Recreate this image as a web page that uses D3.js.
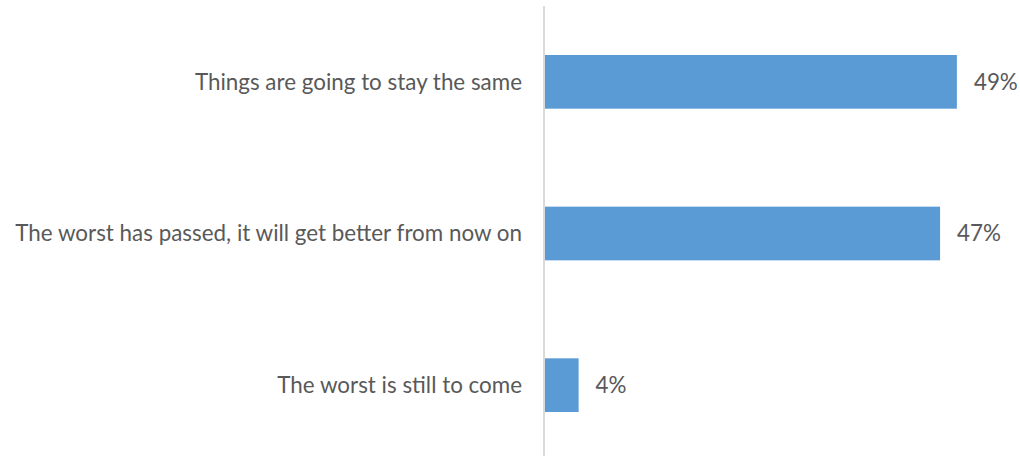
<!DOCTYPE html>
<html>
<head>
<meta charset="utf-8">
<script src="https://cdn.jsdelivr.net/npm/d3@7"></script>
<style>
  html, body { margin: 0; padding: 0; background: #ffffff; }
  svg { display: block; }
  text { font-family: "Lato", "Open Sans", sans-serif; fill: #595959; }
</style>
</head>
<body>
<svg id="chart" width="1020" height="456"></svg>
<script>
// Survey answers and their shares (percent)
const categories = [
  "Things are going to stay the same",
  "The worst has passed, it will get better from now on",
  "The worst is still to come"
];
const values = [49, 47, 4];
const valueLabels = ["49%", "47%", "4%"];

const width = 1020, height = 456;
const fontSize = 22.4;
const svg = d3.select("#chart");

const x = d3.scaleLinear().domain([0, 50]).range([545, 965.3]);
const y = d3.scaleBand().domain(categories).range([6, 461]).paddingInner(0.646).paddingOuter(0.323);

// Bars
svg.append("g").selectAll("rect")
  .data(categories)
  .join("rect")
  .attr("x", x(0))
  .attr("y", d => y(d))
  .attr("width", (d, i) => x(values[i]) - x(0))
  .attr("height", y.bandwidth())
  .attr("fill", "#5b9bd5");

// Category axis on the left, drawn as a plain vertical rule
const axis = svg.append("g")
  .attr("transform", `translate(${x(0) - 1},0)`)
  .call(d3.axisLeft(y).tickSize(0).tickPadding(22));
axis.select(".domain").remove();
axis.append("line")
  .attr("x1", 0).attr("x2", 0)
  .attr("y1", 6).attr("y2", height)
  .attr("stroke", "#d9d9d9")
  .attr("stroke-width", 2);
axis.selectAll(".tick text")
  .attr("font-family", "Lato, 'Open Sans', sans-serif")
  .attr("font-size", fontSize)
  .attr("fill", "#595959")
  .attr("dy", "0.35em");

// Value labels
svg.append("g").selectAll("text")
  .data(categories)
  .join("text")
  .attr("x", (d, i) => x(values[i]) + 17)
  .attr("y", d => y(d) + y.bandwidth() / 2)
  .attr("dy", "0.35em")
  .attr("font-size", fontSize)
  .text((d, i) => valueLabels[i]);
</script>
</body>
</html>
